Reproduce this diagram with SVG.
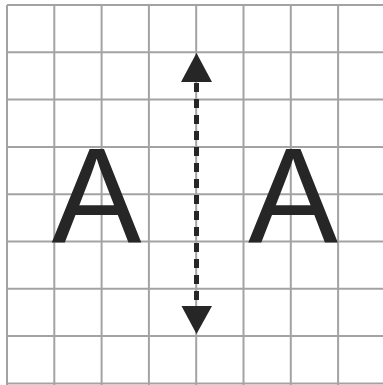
<svg xmlns="http://www.w3.org/2000/svg" width="383" height="385" viewBox="0 0 383 385">
<style>
.grid line{stroke:#a3a3a3;stroke-width:2}
.letter{font-family:"Liberation Sans",Arial,sans-serif;font-size:135px;fill:#262626;text-anchor:middle}
.conn{stroke:#262626;stroke-width:5;stroke-dasharray:9 7;fill:none}
.head{fill:#262626}
</style>
<rect width="383" height="385" fill="#ffffff"/>
<g id="grid" class="grid">
<line x1="7" y1="5" x2="7" y2="385"/>
<line x1="54.3" y1="5" x2="54.3" y2="385"/>
<line x1="101.6" y1="5" x2="101.6" y2="385"/>
<line x1="148.9" y1="5" x2="148.9" y2="385"/>
<line x1="196.2" y1="5" x2="196.2" y2="385"/>
<line x1="243.5" y1="5" x2="243.5" y2="385"/>
<line x1="290.8" y1="5" x2="290.8" y2="385"/>
<line x1="338.1" y1="5" x2="338.1" y2="385"/>
<line x1="7" y1="5" x2="383" y2="5"/>
<line x1="7" y1="52.3" x2="383" y2="52.3"/>
<line x1="7" y1="99.6" x2="383" y2="99.6"/>
<line x1="7" y1="146.9" x2="383" y2="146.9"/>
<line x1="7" y1="194.2" x2="383" y2="194.2"/>
<line x1="7" y1="241.5" x2="383" y2="241.5"/>
<line x1="7" y1="288.8" x2="383" y2="288.8"/>
<line x1="7" y1="336.1" x2="383" y2="336.1"/>
<line x1="7" y1="383.4" x2="383" y2="383.4"/>
</g>
<g id="letterLeft"><text class="letter" x="96.5" y="242">A</text></g>
<g id="letterRight"><text class="letter" x="293" y="242">A</text></g>
<g id="connectors">
<line class="conn" x1="196.5" y1="83" x2="196.5" y2="307"/>
<polygon class="head" points="196.5,53 181,82 212,82"/>
<polygon class="head" points="196.5,334 181.5,306 212,306"/>
</g>
</svg>
